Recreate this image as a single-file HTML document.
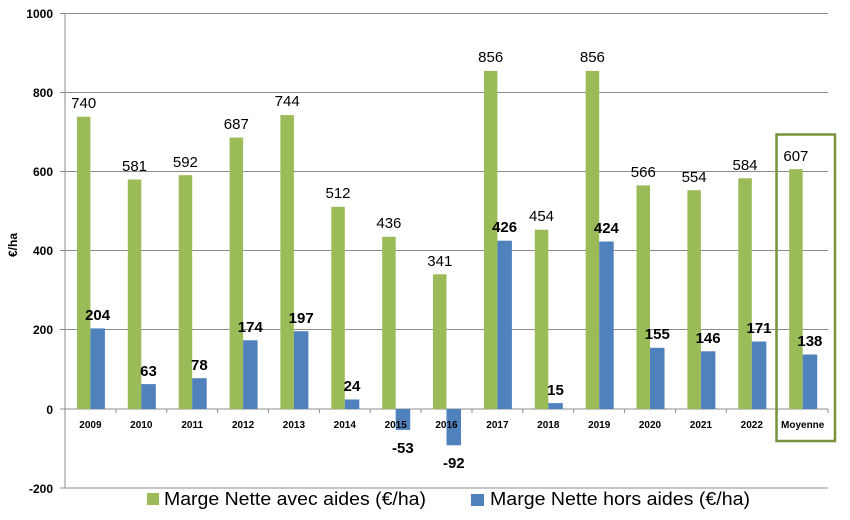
<!DOCTYPE html>
<html><head><meta charset="utf-8"><style>body{margin:0;background:#fff}svg{display:block}</style></head>
<body>
<svg width="850" height="520" xmlns="http://www.w3.org/2000/svg" font-family="Liberation Sans, sans-serif">
<g stroke="#8c8c8c" stroke-width="1">
<line x1="60" y1="13.5" x2="828" y2="13.5"/>
<line x1="60" y1="92.5" x2="828" y2="92.5"/>
<line x1="60" y1="171.5" x2="828" y2="171.5"/>
<line x1="60" y1="250.5" x2="828" y2="250.5"/>
<line x1="60" y1="329.5" x2="828" y2="329.5"/>
<line x1="60" y1="409" x2="828" y2="409"/>
<line x1="60" y1="488" x2="828" y2="488"/>
<line x1="65" y1="13.5" x2="65" y2="488"/>
<g>
<line x1="115.9" y1="409" x2="115.9" y2="413"/><line x1="166.7" y1="409" x2="166.7" y2="413"/><line x1="217.6" y1="409" x2="217.6" y2="413"/><line x1="268.5" y1="409" x2="268.5" y2="413"/><line x1="319.4" y1="409" x2="319.4" y2="413"/><line x1="370.2" y1="409" x2="370.2" y2="413"/><line x1="421.1" y1="409" x2="421.1" y2="413"/><line x1="472" y1="409" x2="472" y2="413"/><line x1="522.8" y1="409" x2="522.8" y2="413"/><line x1="573.7" y1="409" x2="573.7" y2="413"/><line x1="624.6" y1="409" x2="624.6" y2="413"/><line x1="675.5" y1="409" x2="675.5" y2="413"/><line x1="726.3" y1="409" x2="726.3" y2="413"/><line x1="777.2" y1="409" x2="777.2" y2="413"/><line x1="828" y1="409" x2="828" y2="413"/>
</g></g>
<g font-size="12" font-weight="bold" text-anchor="end" fill="#000">
<text x="53" y="18">1000</text><text x="53" y="97">800</text><text x="53" y="176">600</text><text x="53" y="255">400</text><text x="53" y="334">200</text><text x="53" y="414">0</text><text x="53" y="493">-200</text>
</g>
<text transform="translate(17,245) rotate(-90)" font-size="12" font-weight="bold" text-anchor="middle">€/ha</text>
<g fill="#9bbb59">
<rect x="76.9" y="116.7" width="13.5" height="292.3"/><rect x="127.8" y="179.5" width="13.5" height="229.5"/><rect x="178.7" y="175.2" width="13.5" height="233.8"/><rect x="229.6" y="137.6" width="13.5" height="271.4"/><rect x="280.4" y="115.1" width="13.5" height="293.9"/><rect x="331.3" y="206.8" width="13.5" height="202.2"/><rect x="382.2" y="236.8" width="13.5" height="172.2"/><rect x="433" y="274.3" width="13.5" height="134.7"/><rect x="483.9" y="70.9" width="13.5" height="338.1"/><rect x="534.8" y="229.7" width="13.5" height="179.3"/><rect x="585.7" y="70.9" width="13.5" height="338.1"/><rect x="636.5" y="185.4" width="13.5" height="223.6"/><rect x="687.4" y="190.2" width="13.5" height="218.8"/><rect x="738.3" y="178.3" width="13.5" height="230.7"/><rect x="789.2" y="169.2" width="13.5" height="239.8"/>
</g>
<g fill="#4f81bd">
<rect x="90.4" y="328.4" width="14.5" height="80.6"/><rect x="141.3" y="384.1" width="14.5" height="24.9"/><rect x="192.2" y="378.2" width="14.5" height="30.8"/><rect x="243.1" y="340.3" width="14.5" height="68.7"/><rect x="293.9" y="331.2" width="14.5" height="77.8"/><rect x="344.8" y="399.5" width="14.5" height="9.5"/><rect x="395.7" y="409" width="14.5" height="20.9"/><rect x="446.5" y="409" width="14.5" height="36.3"/><rect x="497.4" y="240.7" width="14.5" height="168.3"/><rect x="548.3" y="403.1" width="14.5" height="5.9"/><rect x="599.2" y="241.5" width="14.5" height="167.5"/><rect x="650" y="347.8" width="14.5" height="61.2"/><rect x="700.9" y="351.3" width="14.5" height="57.7"/><rect x="751.8" y="341.5" width="14.5" height="67.5"/><rect x="802.7" y="354.5" width="14.5" height="54.5"/>
</g>
<g font-size="10" font-weight="bold" text-anchor="middle">
<text x="90.4" y="428">2009</text><text x="141.3" y="428">2010</text><text x="192.2" y="428">2011</text><text x="243.1" y="428">2012</text><text x="293.9" y="428">2013</text><text x="344.8" y="428">2014</text><text x="395.7" y="428">2015</text><text x="446.5" y="428">2016</text><text x="497.4" y="428">2017</text><text x="548.3" y="428">2018</text><text x="599.2" y="428">2019</text><text x="650" y="428">2020</text><text x="700.9" y="428">2021</text><text x="751.8" y="428">2022</text><text x="802.7" y="428">Moyenne</text>
</g>
<g font-size="15" text-anchor="middle" fill="#000">
<text x="83.7" y="108">740</text><text x="134.5" y="171">581</text><text x="185.4" y="167">592</text><text x="236.3" y="129">687</text><text x="287.2" y="106">744</text><text x="338" y="198">512</text><text x="388.9" y="228">436</text><text x="439.8" y="266">341</text><text x="490.7" y="62">856</text><text x="541.5" y="221">454</text><text x="592.4" y="62">856</text><text x="643.3" y="177">566</text><text x="694.1" y="182">554</text><text x="745" y="170">584</text><text x="795.9" y="161">607</text>
</g>
<g font-size="15" font-weight="bold" text-anchor="middle" fill="#000">
<text x="97.6" y="320">204</text><text x="148.5" y="376">63</text><text x="199.4" y="370">78</text><text x="250.3" y="332">174</text><text x="301.2" y="323">197</text><text x="352" y="391">24</text><text x="402.9" y="453">-53</text><text x="453.8" y="468">-92</text><text x="504.6" y="232">426</text><text x="555.5" y="395">15</text><text x="606.4" y="233">424</text><text x="657.3" y="339">155</text><text x="708.1" y="343">146</text><text x="759" y="333">171</text><text x="809.9" y="346">138</text>
</g>
<rect x="776.5" y="134.5" width="58.5" height="306.5" fill="none" stroke="#77933c" stroke-width="2.5"/>
<rect x="147" y="493" width="12" height="12" fill="#9bbb59"/>
<text x="164" y="505" font-size="18" textLength="262" lengthAdjust="spacingAndGlyphs">Marge Nette avec aides (€/ha)</text>
<rect x="471" y="494" width="13" height="12" fill="#4f81bd"/>
<text x="490" y="505" font-size="18" textLength="260" lengthAdjust="spacingAndGlyphs">Marge Nette hors aides (€/ha)</text>
</svg>
</body></html>
